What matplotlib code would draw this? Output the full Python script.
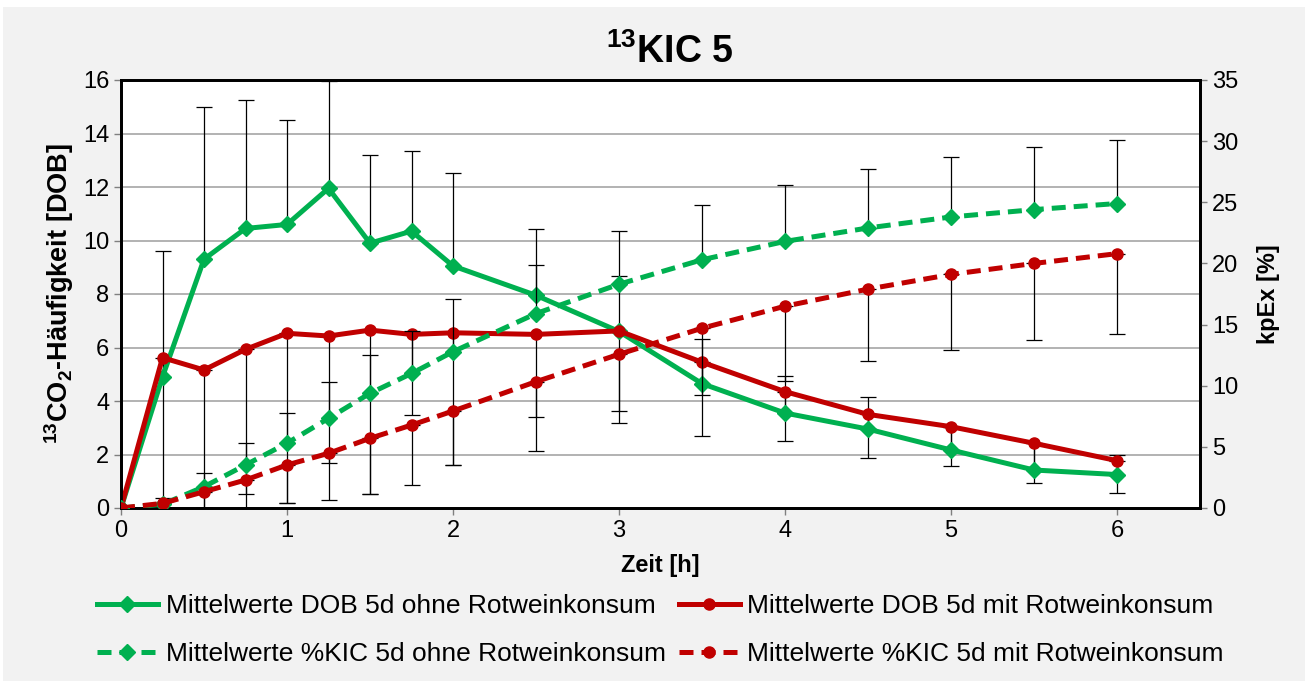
import numpy as np
import matplotlib
matplotlib.use('Agg')
import matplotlib.pyplot as plt
from matplotlib.lines import Line2D
from matplotlib.patches import Rectangle

plt.rcParams['font.family'] = ['Liberation Sans', 'DejaVu Sans']
plt.rcParams['mathtext.fontset'] = 'custom'
plt.rcParams['mathtext.rm'] = 'Liberation Sans'
plt.rcParams['mathtext.bf'] = 'Liberation Sans:bold'
plt.rcParams['mathtext.default'] = 'regular'

# Time points [h]
zeit = [0, 0.25, 0.5, 0.75, 1, 1.25, 1.5, 1.75, 2, 2.5, 3, 3.5, 4, 4.5, 5, 5.5, 6]

# DOB (left axis)
dob_ohne = [0, 4.9, 9.3, 10.45, 10.6, 11.95, 9.9, 10.35, 9.05, 7.95, 6.6, 4.65, 3.55, 2.95, 2.17, 1.42, 1.25]
dob_ohne_err = [0, 4.7, 5.7, 4.82, 3.92, 4.0, 3.3, 3.0, 3.48, 2.47, 2.06, 1.68, 1.37, 1.19, 0.85, 1.0, 0.73]   # plus only
dob_mit = [0, 5.62, 5.16, 5.93, 6.53, 6.43, 6.65, 6.49, 6.55, 6.49, 6.62, 5.45, 4.35, 3.5, 3.04, 2.42, 1.77]
dob_mit_err = [0, 5.62, 5.16, 5.4, 6.36, 4.76, 6.14, 3.0, 4.95, 3.08, 3.0, 2.75, 1.85, 1.64, 1.46, 1.47, 1.22]  # minus only

# %KIC / kpEx (right axis)
kic_ohne = [0, 0.3, 1.74, 3.52, 5.3, 7.33, 9.38, 11.0, 12.78, 15.9, 18.3, 20.3, 21.8, 22.9, 23.8, 24.4, 24.9]
kic_ohne_err = [0, 0.5, 1.1, 1.77, 2.5, 2.97, 3.1, 3.5, 4.3, 4.0, 4.36, 4.5, 4.6, 4.8, 4.9, 5.1, 5.2]          # plus only
kic_mit = [0, 0.38, 1.33, 2.29, 3.52, 4.47, 5.7, 6.78, 7.93, 10.33, 12.57, 14.7, 16.5, 17.9, 19.1, 20.0, 20.8]
kic_mit_err = [0, 0.38, 1.33, 2.25, 3.14, 3.82, 4.58, 4.87, 4.43, 5.64, 5.6, 5.5, 6.1, 5.9, 6.2, 6.3, 6.6]     # minus only

labels = ['Mittelwerte DOB 5d ohne Rotweinkonsum',
          'Mittelwerte DOB 5d mit Rotweinkonsum',
          'Mittelwerte %KIC 5d ohne Rotweinkonsum',
          'Mittelwerte %KIC 5d mit Rotweinkonsum']

GREEN = '#00B050'
RED = '#C00000'
zero = np.zeros(len(zeit))

fig = plt.figure(figsize=(13.08, 6.81), dpi=100, facecolor='white')
fig.patches.append(Rectangle((3 / 1308, 0), 1302 / 1308, 674 / 681, transform=fig.transFigure,
                             facecolor='#f2f2f2', edgecolor='none', zorder=-10))

ax = fig.add_axes([121 / 1308, 173 / 681, 1079 / 1308, 428 / 681])
ax.set_facecolor('white')
ax2 = ax.twinx()

eb_kw = dict(fmt='none', ecolor='black', elinewidth=0.9, capsize=5.5, capthick=0.9)
line_kw = dict(linewidth=3.6)

# error bars first, lines on top
ax.errorbar(zeit, dob_ohne, yerr=[zero, dob_ohne_err], zorder=3, **eb_kw)
ax.errorbar(zeit, dob_mit, yerr=[dob_mit_err, zero], zorder=3, **eb_kw)
ax.plot(zeit, dob_ohne, color=GREEN, marker='D', markersize=8, zorder=4, **line_kw)
ax.plot(zeit, dob_mit, color=RED, marker='o', markersize=8, zorder=4, **line_kw)

ax2.errorbar(zeit, kic_ohne, yerr=[zero, kic_ohne_err], zorder=3, **eb_kw)
ax2.errorbar(zeit, kic_mit, yerr=[kic_mit_err, zero], zorder=3, **eb_kw)
ax2.plot(zeit, kic_ohne, color=GREEN, marker='D', markersize=8, dashes=(2.8, 1.6), zorder=4, **line_kw)
ax2.plot(zeit, kic_mit, color=RED, marker='o', markersize=8, dashes=(2.8, 1.6), zorder=4, **line_kw)

ax.set_xlim(0, 6.5)
ax.set_ylim(0, 16)
ax2.set_ylim(0, 35)
ax.set_xticks(range(0, 7))
ax.set_yticks(range(0, 17, 2))
ax2.set_yticks(range(0, 36, 5))

ax.grid(axis='y', color='#a6a6a6', linewidth=1.2)
ax.set_axisbelow(True)

for a in (ax, ax2):
    for s in a.spines.values():
        s.set_color('black')
        s.set_linewidth(2)
    a.tick_params(labelsize=17, color='#808080', length=5, width=1)

ax.set_xlabel('Zeit [h]', fontsize=17, fontweight='bold', labelpad=9)
ax.set_ylabel(r'$^{13}$CO$_2$-Häufigkeit [DOB]', fontsize=19.5, fontweight='bold', labelpad=5)
ax2.set_ylabel('kpEx [%]', fontsize=17, fontweight='bold', labelpad=14)
ax.set_title(r'$^{13}$KIC 5', fontsize=27, fontweight='bold', pad=12, x=0.509)

handles = [
    Line2D([], [], color=GREEN, marker='D', markersize=8, **line_kw),
    Line2D([], [], color=GREEN, marker='D', markersize=8, dashes=(2.8, 1.6), **line_kw),
    Line2D([], [], color=RED, marker='o', markersize=8, **line_kw),
    Line2D([], [], color=RED, marker='o', markersize=8, dashes=(2.8, 1.6), **line_kw),
]
leg_labels = [labels[0], labels[2], labels[1], labels[3]]
fig.legend(handles, leg_labels, loc='center', bbox_to_anchor=(0.505, 0.075), ncol=2,
           frameon=False, fontsize=19, handlelength=2.3, handletextpad=0.3,
           columnspacing=0.5, labelspacing=0.9)

fig.savefig('out.png', dpi=100, facecolor=fig.get_facecolor())
